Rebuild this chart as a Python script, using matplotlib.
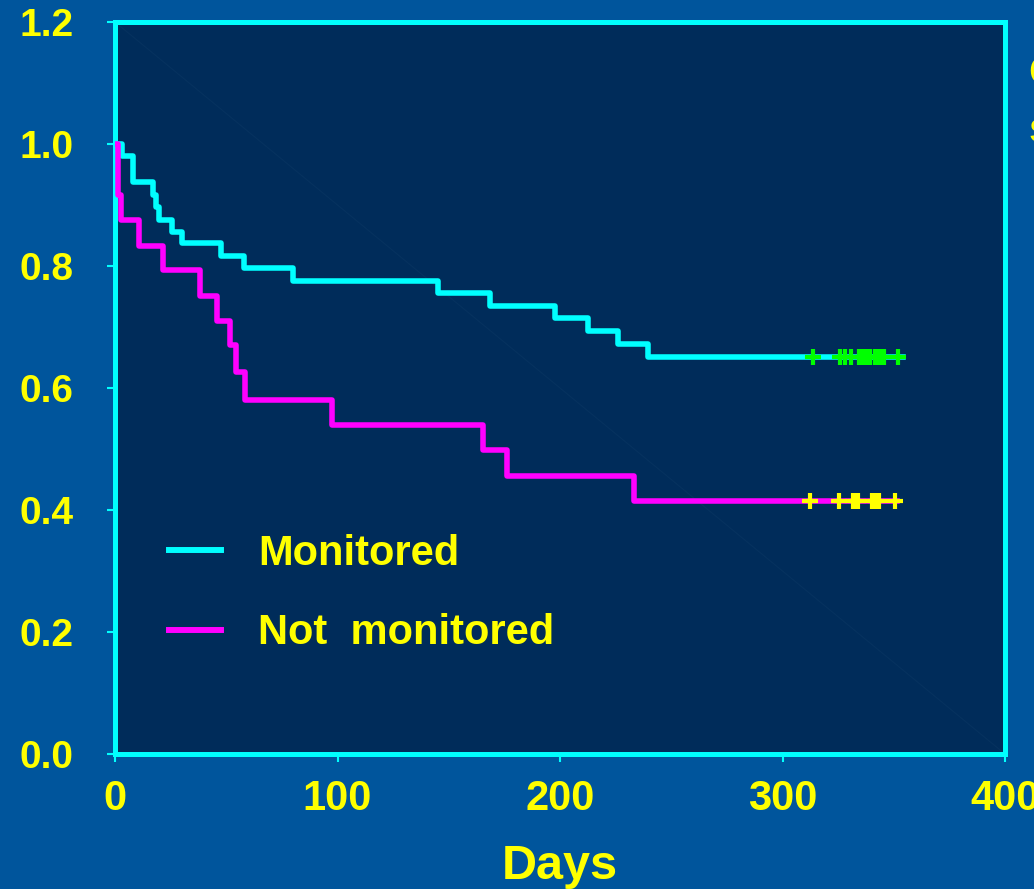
import matplotlib
matplotlib.use("Agg")
import matplotlib.pyplot as plt
import numpy as np

plt.rcParams['font.family'] = ['Liberation Sans', 'DejaVu Sans']
plt.rcParams['font.weight'] = 'bold'

# Kaplan-Meier steps (time in days, survival after the drop)
mon_times = [0, 3, 8.2, 17.2, 18.4, 19.9, 25.5, 30, 47.5, 58, 79.9,
             145.3, 168.5, 197.8, 212.7, 226.2, 239.7]
mon_surv = [1.0, 0.980, 0.938, 0.916, 0.897, 0.875, 0.855, 0.838, 0.817,
            0.797, 0.775, 0.755, 0.734, 0.714, 0.693, 0.672, 0.651]
mon_end = 354
mon_censored = [313.6, 326, 328, 331, 334.5, 336, 337, 338, 339.3,
                341.6, 343, 344.6, 345.6, 351.8]

not_times = [0, 1.2, 2.5, 10.9, 21.4, 38.2, 46, 51.7, 54.5, 58.5,
             97.4, 165.5, 176.3, 233.4]
not_surv = [1.0, 0.916, 0.875, 0.833, 0.793, 0.751, 0.710, 0.670, 0.626,
            0.580, 0.539, 0.498, 0.456, 0.415]
not_end = 351.5
not_censored = [312.4, 325.4, 331.5, 333, 334, 340, 341.9, 343.4, 350.6]

labels = ["Monitored", "Not  monitored"]
xticks = [0, 100, 200, 300, 400]
yticks = [0.0, 0.2, 0.4, 0.6, 0.8, 1.0, 1.2]

BG = '#00559c'
PANEL = '#002c5a'
CYAN = '#00ffff'
MAGENTA = '#ff00ff'
YELLOW = '#ffff00'
GREEN = '#00ff00'

fig = plt.figure(figsize=(10.34, 8.89), dpi=100, facecolor=BG)
ax = fig.add_axes([115 / 1034, 1 - 754 / 889, 890 / 1034, 732 / 889])
ax.set_facecolor(PANEL)

# faint diagonal artefact across the panel
ax.plot([0, 1], [1, 0], transform=ax.transAxes, color='#06325f', lw=0.8, zorder=1)

mt = mon_times + [mon_end]
ms = mon_surv + [mon_surv[-1]]
nt = not_times + [not_end]
ns = not_surv + [not_surv[-1]]
ax.step(mt, ms, where='post', color=CYAN, lw=4, zorder=3)
ax.step(nt, ns, where='post', color=MAGENTA, lw=4, zorder=3)

ax.plot(mon_censored, [mon_surv[-1]] * len(mon_censored), '+', color=GREEN,
        ms=12, mew=3, zorder=4)
ax.plot(not_censored, [not_surv[-1]] * len(not_censored), '+', color=YELLOW,
        ms=12, mew=3, zorder=4)

ax.set_xlim(0, 400)
ax.set_ylim(0, 1.2)
ax.set_xticks(xticks)
ax.set_yticks(yticks)
ax.set_yticklabels([f"{v:.1f}" for v in yticks])
ax.tick_params(axis='x', colors=CYAN, labelcolor=YELLOW, labelsize=30,
               length=6, width=1.5, pad=12)
ax.tick_params(axis='y', colors=CYAN, labelcolor=YELLOW, labelsize=28,
               length=6, width=1.5, pad=24)
for s in ax.spines.values():
    s.set_color(CYAN)
    s.set_linewidth(3.6)

ax.set_xlabel("Days", color=YELLOW, fontsize=35, fontweight='bold', labelpad=18)

leg_lines = [plt.Line2D([], [], color=CYAN, lw=4.3),
             plt.Line2D([], [], color=MAGENTA, lw=4.3)]
leg = ax.legend(leg_lines, labels, loc='upper left',
                bbox_to_anchor=(0.018, 0.352), frameon=False,
                prop={'size': 30, 'weight': 'bold'},
                handlelength=1.25, handletextpad=0.9, labelspacing=0.95)
for t in leg.get_texts():
    t.set_color(YELLOW)

# partly visible title at the right edge
fig.text(1028 / 1034, 1 - 85 / 889, "O", color=YELLOW, fontsize=30,
         fontweight='bold', va='baseline', ha='left')
fig.text(1028 / 1034, 1 - 142 / 889, "s", color=YELLOW, fontsize=30,
         fontweight='bold', va='baseline', ha='left')

fig.savefig("out.png", dpi=100, facecolor=BG)
